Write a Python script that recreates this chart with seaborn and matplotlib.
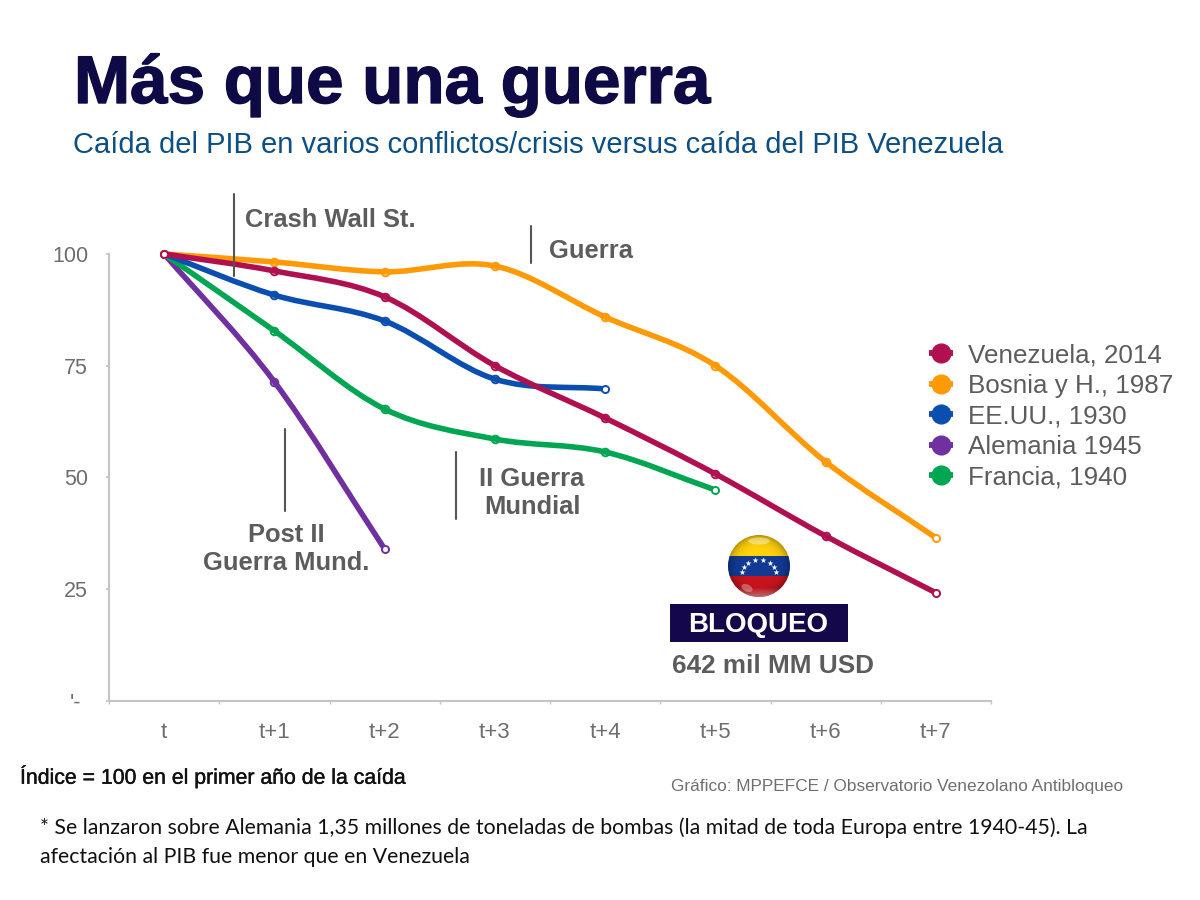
import numpy as np
import pandas as pd
import matplotlib
matplotlib.use('Agg')
import matplotlib.pyplot as plt
import matplotlib.patheffects as pe
import seaborn as sns
from matplotlib.path import Path
from matplotlib.patches import PathPatch, Circle, Rectangle, Ellipse
from matplotlib.lines import Line2D
from matplotlib.transforms import ScaledTranslation

# Values
periods = ['t', 't+1', 't+2', 't+3', 't+4', 't+5', 't+6', 't+7']
venezuela = [100, 96.2, 90.4, 75, 63.3, 50.8, 36.9, 24.2]
bosnia = [100, 98.2, 96, 97.3, 85.9, 75, 53.5, 36.5]
eeuu = [100, 90.8, 85, 72, 69.8]
alemania = [100, 71.4, 34]
francia = [100, 82.8, 65.3, 58.6, 55.7, 47.2]
y_ticks = [0, 25, 50, 75, 100]
y_labels = ["'-", '25', '50', '75', '100']

names = ['Venezuela, 2014', 'Bosnia y H., 1987', 'EE.UU., 1930', 'Alemania 1945', 'Francia, 1940']
series = [venezuela, bosnia, eeuu, alemania, francia]
colors = ['#b0104f', '#ff9a06', '#0a4fb0', '#7030a0', '#00a651']
draw_order = [3, 4, 2, 1, 0]

GREY = '#5c5c5c'

sns.set_theme(style='white')
plt.rcParams['font.family'] = ['Liberation Sans', 'DejaVu Sans']

fig = plt.figure(figsize=(12, 9), dpi=100)

# Chart axes: x line spans 109-991 px, y=0 at 701 px and y=100 at 254 px
ax = fig.add_axes([109 / 1200, 1 - 701 / 900, 882 / 1200, 511 / 900])
ax.patch.set_alpha(0)


def smooth_path(xs, ys):
    # Catmull-Rom through the points, with mirrored end points
    pts = np.column_stack([xs, ys]).astype(float)
    verts = [pts[0]]
    codes = [Path.MOVETO]
    for i in range(len(pts) - 1):
        before = pts[i - 1] if i > 0 else 2 * pts[0] - pts[1]
        after = pts[i + 2] if i + 2 < len(pts) else 2 * pts[-1] - pts[-2]
        verts.append(pts[i] + (pts[i + 1] - before) / 6)
        verts.append(pts[i + 1] - (after - pts[i]) / 6)
        verts.append(pts[i + 1])
        codes += [Path.CURVE4] * 3
    return Path(verts, codes)


rows = []
for name, values in zip(names, series):
    for i, v in enumerate(values):
        rows.append({'serie': name, 'x': i, 'y': v})
df = pd.DataFrame(rows)

for rank, idx in enumerate(draw_order):
    values = series[idx]
    xs = np.arange(len(values))
    ax.add_patch(PathPatch(smooth_path(xs, values), fill=False, edgecolor=colors[idx],
                           lw=4.0, capstyle='butt', zorder=2 + rank))
    sub = df[df['serie'] == names[idx]]
    # inner points sit under the line, the first and last ones on top of it
    ends = sub['x'].isin([0, len(values) - 1])
    sns.scatterplot(data=sub[~ends], x='x', y='y', ax=ax, s=30, color='white', edgecolor=colors[idx],
                    linewidth=1.4, legend=False, zorder=1.9 + rank)
    sns.scatterplot(data=sub[ends], x='x', y='y', ax=ax, s=26, color='white', edgecolor=colors[idx],
                    linewidth=1.4, legend=False, zorder=2.1 + rank)

ax.set_xlim(-0.5, 7.5)
ax.set_ylim(0, 114.3)
ax.set_xticks(range(len(periods)))
ax.set_xticklabels(periods)
ax.set_xticks(np.arange(-0.5, 8), minor=True)
ax.set_yticks(y_ticks)
ax.set_yticklabels(y_labels)
ax.set_xlabel('')
ax.set_ylabel('')
ax.tick_params(axis='x', which='major', length=0, pad=15, labelsize=16, labelcolor='#6e6e6e')
ax.tick_params(axis='x', which='minor', length=2, color='#c4c4c4', direction='out', bottom=True)
ax.tick_params(axis='y', length=2, color='#c4c4c4', pad=13, labelsize=15.5, labelcolor='#6e6e6e', left=True)
sns.despine(ax=ax)
ax.spines['left'].set_bounds(0, 100)
for side in ['left', 'bottom']:
    ax.spines[side].set_color('#c4c4c4')
    ax.spines[side].set_linewidth(1.5)
zero_label = ax.get_yticklabels()[0]
zero_label.set_transform(zero_label.get_transform() + ScaledTranslation(-0.07, 0, fig.dpi_scale_trans))

# Legend with the little stub through the dot
handles = [Line2D([], [], color=c, lw=4.2, marker='o', ms=13.5, solid_capstyle='butt') for c in colors]
leg = ax.legend(handles, names, loc='upper left', bbox_to_anchor=(929 / 1200, 1 - 343 / 900),
                bbox_transform=fig.transFigure, frameon=False, fontsize=18.7, labelcolor=GREY,
                handlelength=0.92, handletextpad=0.58, labelspacing=0.255, borderpad=0, borderaxespad=0)

# Overlay in pixel coordinates for the slide furniture
over = fig.add_axes([0, 0, 1, 1], zorder=10)
over.set_xlim(0, 1200)
over.set_ylim(900, 0)
over.axis('off')
over.patch.set_alpha(0)


def heavy(width, color):
    return [pe.withStroke(linewidth=width, foreground=color)]


over.text(74, 103, 'Más que una guerra', fontsize=48.5, fontweight='bold', color='#0e0a45', va='baseline',
          path_effects=heavy(1.0, '#0e0a45'))
over.text(73, 153, 'Caída del PIB en varios conflictos/crisis versus caída del PIB Venezuela',
          fontsize=21, color='#0b4f84', va='baseline')

for x0, y0, y1 in [(234, 194, 276), (531, 226, 263), (285, 429, 511), (456, 452, 519)]:
    over.plot([x0, x0], [y0, y1], color='#555555', lw=1.5)

anno = dict(fontsize=18.4, fontweight='bold', color=GREY, va='center')
over.text(245, 220, 'Crash Wall St.', **anno)
over.text(549, 251, 'Guerra', **anno)
over.text(286, 549, 'Post II\nGuerra Mund.', ha='center', linespacing=1.22, **anno)
over.text(532, 493, 'II Guerra\nMundial', ha='center', linespacing=1.22, **anno)

over.add_patch(Rectangle((670, 604), 178, 38, color='#14074a', lw=0))
over.text(758.5, 625, 'BLOQUEO', fontsize=20, fontweight='bold', color='white', ha='center', va='center')
over.text(773, 666, '642 mil MM USD', fontsize=18.8, fontweight='bold', color=GREY, ha='center', va='center')

over.text(20, 777, 'Índice = 100 en el primer año de la caída', fontsize=15.3, color='#111111', va='center',
          path_effects=heavy(0.3, '#111111'))
over.text(671, 786, 'Gráfico: MPPEFCE / Observatorio Venezolano Antibloqueo', fontsize=12.4,
          color='#6f6f6f', va='center')
over.text(40, 828, '* Se lanzaron sobre Alemania 1,35 millones de toneladas de bombas (la mitad de toda Europa entre 1940-45). La',
          fontsize=15.3, family=['Lato', 'DejaVu Sans'], color='#111111', va='center')
over.text(40, 857, 'afectación al PIB fue menor que en Venezuela',
          fontsize=15.3, family=['Lato', 'DejaVu Sans'], color='#111111', va='center')

# Flag ball
cx, cy, r = 759, 566, 31
clip = Circle((cx, cy), r, transform=over.transData, fc='none', ec='none')
over.add_patch(clip)
for top, bottom, c in [(535, 556, '#ffd20a'), (556, 576, '#123a94'), (576, 597, '#c8141e')]:
    band = Rectangle((cx - r, top), 2 * r, bottom - top, color=c, lw=0)
    over.add_patch(band)
    band.set_clip_path(clip)
# soft darkening at the sides and a pale rim at the bottom of the ball
yy, xx = np.mgrid[-1:1:124j, -1:1:124j]
dist = np.hypot(xx, yy)
dark = np.zeros((124, 124, 4))
dark[..., 3] = np.clip(dist ** 6 * 0.3, 0, 0.3)
im = over.imshow(dark, extent=(cx - r, cx + r, cy + r, cy - r), zorder=3, aspect='auto')
im.set_clip_path(clip)
pale = np.ones((124, 124, 4))
pale[..., 3] = np.clip((yy - 0.7) * 1.3, 0, 0.5)
im2 = over.imshow(pale, extent=(cx - r, cx + r, cy + r, cy - r), zorder=3.1, aspect='auto')
im2.set_clip_path(clip)
over.set_xlim(0, 1200)
over.set_ylim(900, 0)
over.add_patch(Ellipse((cx, 541), 22, 7, color='white', alpha=0.4, lw=0, zorder=3.2))
gloss = Ellipse((747, 588), 12, 7, angle=25, color='white', alpha=0.3, lw=0, zorder=3.2)
over.add_patch(gloss)
angles = np.radians(np.linspace(180, 0, 8))
over.scatter(cx + 17 * np.cos(angles), 572 - 12 * np.sin(angles), marker='*', s=20, color='white',
             linewidths=0, zorder=4)

fig.savefig('out.png', dpi=100)
